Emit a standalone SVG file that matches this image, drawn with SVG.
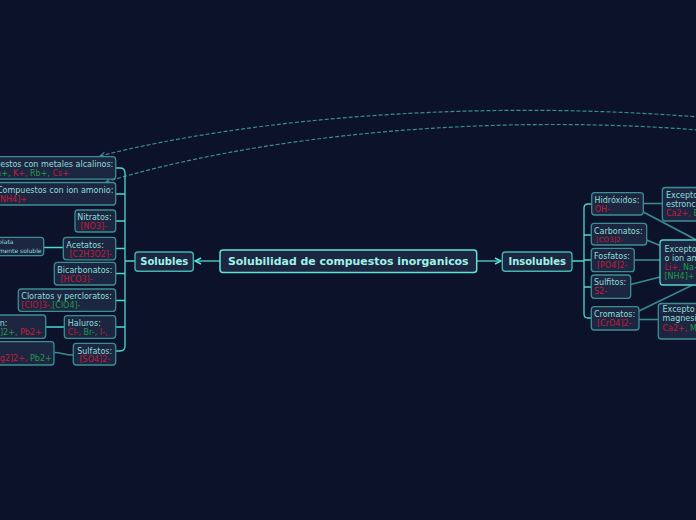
<svg xmlns="http://www.w3.org/2000/svg" width="696" height="520" viewBox="0 0 696 520">
<defs>
<style>
.t{font-family:"DejaVu Sans","Liberation Sans",sans-serif;font-size:8px;fill:#8fdfdb}
.s{font-size:6px}
.b{font-weight:bold;fill:#9ff3ea}
.r{fill:#c41a3f}
.g{fill:#1f9b4b}
.n rect{fill:#1d2640;stroke:#3b8e93;stroke-width:1.3}
.c{fill:none;stroke:#4fd6cf;stroke-width:1.3}
.x{fill:none;stroke:#3a8a8f;stroke-width:1.6}
.d{fill:none;stroke:#3b8c93;stroke-width:1.2;stroke-dasharray:4 2}
</style>
<marker id="arr" viewBox="0 0 8 8" refX="7" refY="4" markerWidth="8" markerHeight="8" markerUnits="userSpaceOnUse" orient="auto">
<path d="M1,1 L7,4 L1,7" fill="none" stroke="#5ce6da" stroke-width="1.4"/>
</marker>
<marker id="darr" viewBox="0 0 8 8" refX="7" refY="4" markerWidth="7" markerHeight="7" markerUnits="userSpaceOnUse" orient="auto-start-reverse">
<path d="M1,1 L7,4 L1,7" fill="none" stroke="#3b8c93" stroke-width="1.2"/>
</marker>
</defs>
<rect x="0" y="0" width="696" height="520" fill="#0b1229"/>

<g id="connectors">
<path class="d" d="M100,156 C240,120 500,92 780,125" marker-start="url(#darr)"/>
<path class="d" d="M106,182 C240,140 500,104 780,138" marker-start="url(#darr)"/>
<path class="c" d="M220,261 H195" marker-end="url(#arr)"/>
<path class="c" d="M477,261 H501" marker-end="url(#arr)"/>
<path class="c" d="M116,168 H120 Q125,168 125,173 V346 Q125,351 120,351 H116"/>
<path class="c" d="M116,194 H125 M116,221 H125 M116,248.5 H125 M116,273.5 H125 M116,300.5 H125 M116,327 H125 M135,261 H125"/>
<path class="c" d="M44,247.5 H63.3 M45.7,327 H64.3"/>
<path class="x" d="M54.3,352.5 C62,352.5 64,355 73.3,355"/>
<path class="c" d="M591,204 H588 Q584,204 584,208 V314 Q584,318 588,318 H591"/>
<path class="c" d="M584,235 H591 M584,260 H591 M584,287 H591 M572,261 H584"/>
<path class="x" d="M643.3,203.5 H662.3"/>
<path class="x" d="M643.3,212 L705,244.5"/>
<path class="x" d="M646.7,240 L660,245.5"/>
<path class="x" d="M634.3,260 H660"/>
<path class="x" d="M630.7,284.5 L660,277"/>
<path class="x" d="M639,311 L705,279"/>
<path class="x" d="M639,319.5 H658.3"/>
</g>

<g id="root" class="n">
<rect x="220" y="250" width="256.7" height="22.5" rx="3" style="stroke:#5ce6da;stroke-width:1.5"/>
<text class="t b" x="348.3" y="265.3" text-anchor="middle" style="font-size:10.9px">Solubilidad de compuestos inorganicos</text>
</g>
<g id="solubles" class="n">
<rect x="135" y="252" width="58.3" height="19.3" rx="3" style="stroke:#42b3ad;stroke-width:1.4"/>
<text class="t b" x="164.2" y="265" text-anchor="middle" style="font-size:10px">Solubles</text>
</g>
<g id="insolubles" class="n">
<rect x="502.3" y="252" width="69.7" height="19.3" rx="3" style="stroke:#42b3ad;stroke-width:1.4"/>
<text class="t b" x="537.2" y="265" text-anchor="middle" style="font-size:10px">Insolubles</text>
</g>

<g id="alcalinos" class="n">
<rect x="-33" y="156.7" width="148.7" height="22.5" rx="3"/>
<text class="t" x="-28.2" y="167.2">Compuestos con metales alcalinos:</text>
<text class="t" x="-28.2" y="176.2"><tspan class="r">Li+,</tspan> <tspan class="g">Na+,</tspan> <tspan class="r">K+,</tspan> <tspan class="g">Rb+,</tspan> <tspan class="r">Cs+</tspan></text>
</g>
<g id="amonio" class="n">
<rect x="-8" y="182.5" width="123.7" height="22.5" rx="3"/>
<text class="t" x="-3" y="193">Compuestos con ion amonio:</text>
<text class="t r" x="-3" y="202.3">[NH4]+</text>
</g>
<g id="nitratos" class="n">
<rect x="75" y="210" width="40.7" height="22" rx="3"/>
<text class="t" x="77.3" y="220.3">Nitratos:</text>
<text class="t r" x="80.5" y="229">[NO3]-</text>
</g>
<g id="acetatos" class="n">
<rect x="63.3" y="237.3" width="52.4" height="22.5" rx="3"/>
<text class="t" x="66.3" y="247.6">Acetatos:</text>
<text class="t r" x="69.5" y="256.6">[C2H3O2]-</text>
</g>
<g id="acetato-plata" class="n">
<rect x="-40" y="237.3" width="83.7" height="18.4" rx="3"/>
<text class="t s" x="13.5" y="244.3" text-anchor="end">Acetato de plata</text>
<text class="t s" x="41.5" y="253" text-anchor="end">ligeramente soluble</text>
</g>
<g id="bicarbonatos" class="n">
<rect x="54.3" y="262.3" width="61.4" height="22.7" rx="3"/>
<text class="t" x="57.3" y="272.8">Bicarbonatos:</text>
<text class="t r" x="60.5" y="281.8">[HCO3]-</text>
</g>
<g id="cloratos" class="n">
<rect x="18.3" y="289" width="97.4" height="22.3" rx="3"/>
<text class="t" x="21.3" y="299.4">Cloratos y percloratos:</text>
<text class="t" x="21.3" y="308.4"><tspan class="r">[ClO]3-,</tspan><tspan class="g">[ClO4]-</tspan></text>
</g>
<g id="haluros" class="n">
<rect x="64.3" y="315.7" width="51.4" height="22.6" rx="3"/>
<text class="t" x="67.8" y="326.3">Haluros:</text>
<text class="t" x="67.8" y="335.3"><tspan class="r">Cl-,</tspan> <tspan class="g">Br-,</tspan> <tspan class="r">I-,</tspan></text>
</g>
<g id="haluros-excepto" class="n">
<rect x="-60" y="315" width="105.7" height="23.3" rx="3"/>
<text class="t" x="7.5" y="325.8" text-anchor="end">Excepto con:</text>
<text class="t" x="41.7" y="334.8" text-anchor="end"><tspan class="r">Ag+,</tspan> <tspan class="g">[Hg2]2+,</tspan> <tspan class="r">Pb2+</tspan></text>
</g>
<g id="sulfatos" class="n">
<rect x="73.3" y="343.3" width="42.4" height="21.7" rx="3"/>
<text class="t" x="77.2" y="353.5">Sulfatos:</text>
<text class="t r" x="79.5" y="362.3">[SO4]2-</text>
</g>
<g id="sulfatos-excepto" class="n">
<rect x="-60" y="341.7" width="114" height="23.3" rx="3"/>
<text class="t" x="51.7" y="361.3" text-anchor="end"><tspan class="r">[Hg2]2+,</tspan> <tspan class="g">Pb2+</tspan></text>
</g>

<g id="hidroxidos" class="n">
<rect x="591.7" y="192.7" width="51.6" height="22.3" rx="3"/>
<text class="t" x="594.5" y="203.2">Hidróxidos:</text>
<text class="t r" x="594.8" y="211.8">OH-</text>
</g>
<g id="carbonatos" class="n">
<rect x="591.3" y="223.3" width="55.4" height="21.7" rx="3"/>
<text class="t" x="594" y="234">Carbonatos:</text>
<text class="t r" x="596" y="242.3" style="font-size:7px">[CO3]2-</text>
</g>
<g id="fosfatos" class="n">
<rect x="591.3" y="248.3" width="43" height="23.4" rx="3"/>
<text class="t" x="594" y="258.6">Fosfatos:</text>
<text class="t r" x="597" y="268">[PO4]2-</text>
</g>
<g id="sulfitos" class="n">
<rect x="591.3" y="275" width="39.4" height="23.3" rx="3"/>
<text class="t" x="594" y="285.4">Sulfitos:</text>
<text class="t r" x="594" y="294.4">S2-</text>
</g>
<g id="cromatos" class="n">
<rect x="591.3" y="306.7" width="47.7" height="23.3" rx="3"/>
<text class="t" x="594" y="317.2">Cromatos:</text>
<text class="t r" x="597" y="326.2">[CrO4]2-</text>
</g>

<g id="excepto-ca-sr-ba" class="n">
<rect x="662.3" y="187.5" width="60" height="33.5" rx="3"/>
<text class="t" x="666" y="198">Excepto</text>
<text class="t" x="666" y="206.8">estroncio:</text>
<text class="t" x="666" y="216"><tspan class="r">Ca2+,</tspan> <tspan class="g">Ba2+</tspan></text>
</g>
<g id="excepto-alcalinos" class="n">
<rect x="660" y="240" width="60" height="45" rx="3" style="stroke:#4fd3cb"/>
<text class="t" x="664.5" y="251.5">Excepto</text>
<text class="t" x="664.5" y="260.5">o ion amonio:</text>
<text class="t" x="664.5" y="269.8"><tspan class="r">Li+,</tspan> <tspan class="g">Na+</tspan></text>
<text class="t g" x="664.5" y="278.8">[NH4]+</text>
</g>
<g id="excepto-ca-mg" class="n">
<rect x="658.3" y="303.5" width="60" height="35.5" rx="3"/>
<text class="t" x="662.5" y="312.3">Excepto</text>
<text class="t" x="662.5" y="321.3">magnesio:</text>
<text class="t" x="662.5" y="330.8"><tspan class="r">Ca2+,</tspan> <tspan class="g">Mg2+</tspan></text>
</g>
</svg>
